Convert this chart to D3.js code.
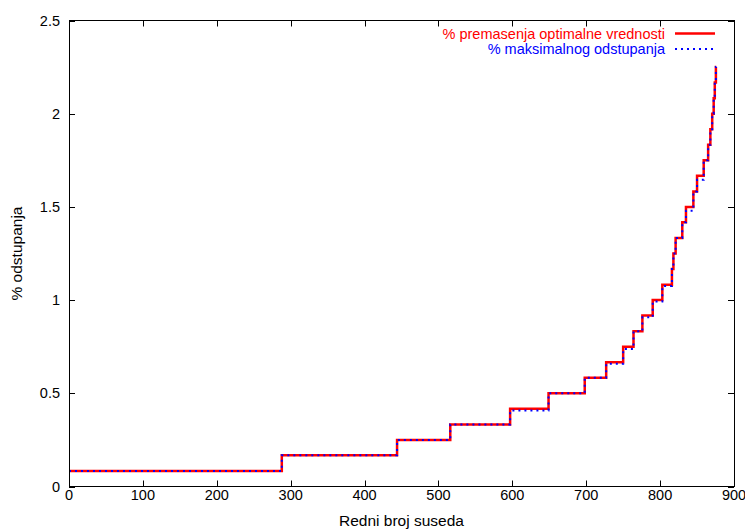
<!DOCTYPE html>
<meta charset="utf-8">
<script src="https://d3js.org/d3.v7.min.js"></script>
<style>
  body { margin: 0; background: #fff; }
  text { font-family: "Liberation Sans", Arial, sans-serif; font-size: 14.5px; }
</style>
<div id="chart"></div>
<script>

// step start positions (neighbour index) and levels (%)
var stepX = [0, 288, 444, 516, 597, 649, 698, 727, 750, 764, 776, 790, 803, 816, 818, 821, 830, 835, 845, 850, 859, 865, 868, 870.5, 872.5, 874, 875.5]
var endX = 876
var premasenje = [0.083, 0.167, 0.25, 0.333, 0.417, 0.5, 0.583, 0.667, 0.75, 0.833, 0.917, 1.0, 1.083, 1.167, 1.25, 1.333, 1.417, 1.5, 1.583, 1.667, 1.75, 1.833, 1.917, 2.0, 2.083, 2.167, 2.25]
var maksimalno = [0.083, 0.167, 0.25, 0.333, 0.408, 0.5, 0.583, 0.658, 0.738, 0.833, 0.908, 0.992, 1.075, 1.167, 1.25, 1.333, 1.417, 1.48, 1.583, 1.645, 1.75, 1.833, 1.917, 2.0, 2.083, 2.167, 2.25]

var xTicks = [0, 100, 200, 300, 400, 500, 600, 700, 800, 900]
var yTicks = [0, 0.5, 1, 1.5, 2, 2.5]

var width = 745,
    height = 531,
    pl = 69, pr = 734, pt = 20.5, pb = 486.5

var svg = d3.select("#chart")
  .append("svg")
    .attr("width", width)
    .attr("height", height)

svg.append("rect").attr("width", width).attr("height", height).attr("fill", "#fff")

var x = d3.scaleLinear().domain([0, 900]).range([pl, pr])
var y = d3.scaleLinear().domain([0, 2.5]).range([pb, pt])

// ticks (inward, mirrored like gnuplot)
var tl = 6
svg.selectAll("xt").data(xTicks).enter().append("path")
  .attr("d", function(d){ var px = Math.round(x(d)) + 0.5
    return "M" + px + "," + pb + "v" + (-tl) + "M" + px + "," + pt + "v" + tl })
  .attr("stroke", "#000").attr("stroke-width", 1)
svg.selectAll("yt").data(yTicks).enter().append("path")
  .attr("d", function(d){ var py = Math.round(y(d)) + 0.5
    return "M" + pl + "," + py + "h" + tl + "M" + pr + "," + py + "h" + (-tl) })
  .attr("stroke", "#000").attr("stroke-width", 1)

svg.selectAll("xl").data(xTicks).enter().append("text")
  .attr("x", function(d){ return x(d) })
  .attr("y", pb + 13)
  .attr("text-anchor", "middle")
  .text(function(d){ return d })

svg.selectAll("yl").data(yTicks).enter().append("text")
  .attr("x", pl - 9)
  .attr("y", function(d){ return y(d) + 5 })
  .attr("text-anchor", "end")
  .text(function(d){ return d })

svg.append("text")
  .attr("x", (pl + pr) / 2)
  .attr("y", 526)
  .attr("text-anchor", "middle")
  .style("font-size", "15.5px")
  .text("Redni broj suseda")

svg.append("text")
  .attr("transform", "translate(22," + ((pt + pb) / 2) + ") rotate(-90)")
  .attr("text-anchor", "middle")
  .style("font-size", "15.5px")
  .text("% odstupanja")

// series
function pts(vals) {
  var p = stepX.map(function(d, i){ return [d, vals[i]] })
  p.push([endX, vals[vals.length - 1]])
  return p
}

var line = d3.line()
  .x(function(d){ return x(d[0]) })
  .y(function(d){ return y(d[1]) })
  .curve(d3.curveStepAfter)

svg.append("path")
  .attr("d", line(pts(premasenje)))
  .attr("fill", "none")
  .attr("stroke", "#ff0000")
  .attr("stroke-width", 2.5)

svg.append("path")
  .attr("d", line(pts(maksimalno)))
  .attr("fill", "none")
  .attr("stroke", "#0000ff")
  .attr("stroke-width", 2)
  .attr("stroke-dasharray", "2,4")

// frame
svg.append("rect")
  .attr("x", pl + 0.5).attr("y", pt)
  .attr("width", pr - pl).attr("height", pb - pt)
  .attr("fill", "none").attr("stroke", "#000").attr("stroke-width", 1)

// legend
var legend = [{name: "% premasenja optimalne vrednosti", color: "#ff0000", dash: null, w: 2.5},
              {name: "% maksimalnog odstupanja", color: "#0000ff", dash: "2,4", w: 2}]
legend.forEach(function(l, i){
  var ly = 33.5 + i * 15.5
  svg.append("text")
    .attr("x", 665).attr("y", ly + 5)
    .attr("text-anchor", "end")
    .style("fill", l.color)
    .text(l.name)
  svg.append("line")
    .attr("x1", 675).attr("x2", 715)
    .attr("y1", ly).attr("y2", ly)
    .attr("stroke", l.color)
    .attr("stroke-width", l.w)
    .attr("stroke-dasharray", l.dash)
})

</script>
